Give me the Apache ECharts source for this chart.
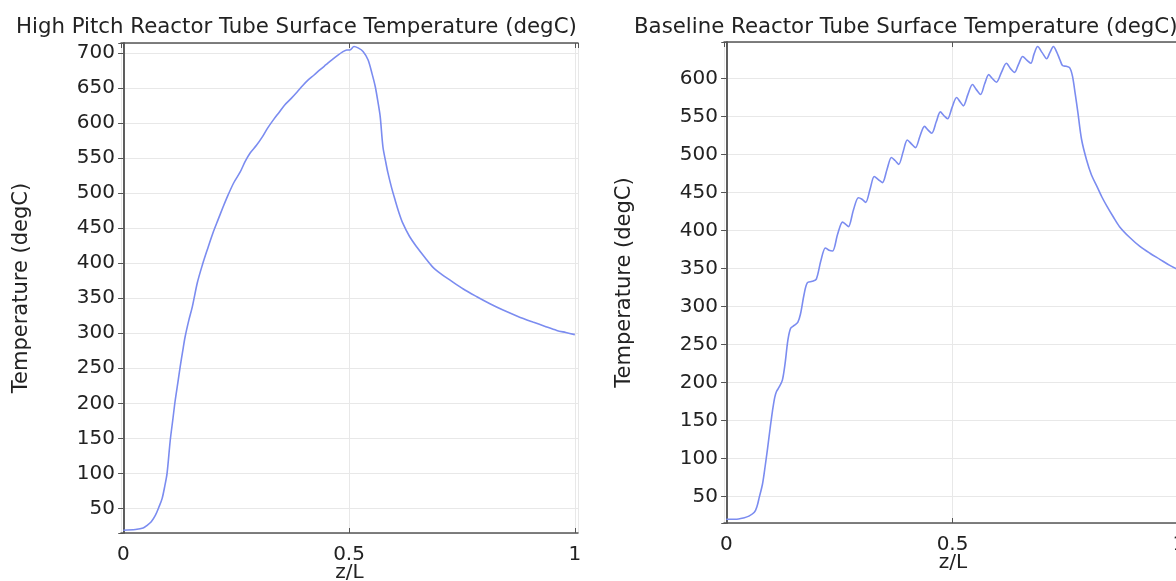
<!DOCTYPE html>
<html>
<head>
<meta charset="utf-8">
<script src="https://cdn.jsdelivr.net/npm/echarts@6/dist/echarts.min.js"></script>
<style>
html,body{margin:0;padding:0;background:#fff;}
#c{width:1176px;height:581px;}
</style>
</head>
<body>
<div id="c"></div>
<script>
// ---- Data ----
const titleLeft = 'High Pitch Reactor Tube Surface Temperature (degC)';
const titleRight = 'Baseline Reactor Tube Surface Temperature (degC)';
const xName = 'z/L';
const yName = 'Temperature (degC)';
const xTicks = [0, 0.5, 1];

const zHigh = [0, 0.027, 0.044, 0.053, 0.062, 0.071, 0.079, 0.086, 0.092, 0.097, 0.104, 0.110, 0.115, 0.121, 0.126, 0.132, 0.137, 0.145, 0.153, 0.164, 0.175, 0.186, 0.198, 0.210, 0.221, 0.232, 0.245, 0.259, 0.270, 0.281, 0.295, 0.308, 0.320, 0.332, 0.345, 0.358, 0.372, 0.385, 0.397, 0.409, 0.422, 0.436, 0.449, 0.462, 0.474, 0.485, 0.495, 0.502, 0.511, 0.520, 0.531, 0.542, 0.551, 0.558, 0.564, 0.569, 0.575, 0.581, 0.586, 0.594, 0.602, 0.610, 0.619, 0.634, 0.650, 0.668, 0.686, 0.705, 0.723, 0.753, 0.783, 0.812, 0.841, 0.874, 0.907, 0.933, 0.960, 0.980, 1.0];
const tHigh = [19, 20, 22, 26, 31, 40, 52, 64, 82, 100, 147, 178, 204, 230, 252, 276, 295, 318, 338, 372, 397, 419, 442, 462, 480, 497, 515, 530, 545, 557, 568, 580, 593, 604, 615, 626, 635, 644, 653, 661, 668, 676, 683, 690, 696, 701, 704, 704, 709, 707, 702, 690, 670, 652, 630, 609, 566, 545, 529, 508, 490, 473, 457, 438, 423, 408, 394, 384, 376, 363, 352, 342, 333, 324, 316, 310, 304, 301, 298];

const zBase = [0, 0.02, 0.04, 0.05, 0.062, 0.068, 0.073, 0.080, 0.086, 0.091, 0.097, 0.102, 0.107, 0.111, 0.117, 0.124, 0.130, 0.136, 0.142, 0.150, 0.158, 0.164, 0.172, 0.179, 0.190, 0.199, 0.209, 0.219, 0.227, 0.235, 0.246, 0.257, 0.264, 0.270, 0.281, 0.292, 0.300, 0.308, 0.318, 0.327, 0.336, 0.345, 0.355, 0.365, 0.373, 0.381, 0.391, 0.400, 0.409, 0.418, 0.428, 0.438, 0.446, 0.454, 0.464, 0.473, 0.481, 0.489, 0.499, 0.509, 0.517, 0.524, 0.534, 0.544, 0.553, 0.562, 0.571, 0.580, 0.588, 0.597, 0.608, 0.619, 0.628, 0.637, 0.646, 0.655, 0.664, 0.673, 0.680, 0.688, 0.698, 0.708, 0.715, 0.723, 0.730, 0.737, 0.743, 0.751, 0.759, 0.765, 0.771, 0.777, 0.785, 0.796, 0.807, 0.819, 0.830, 0.841, 0.855, 0.869, 0.891, 0.914, 0.936, 0.958, 0.980, 1.0];
const tBase = [20, 20, 22, 24, 29, 37, 49, 66, 90, 112, 140, 162, 180, 188, 194, 203, 225, 255, 271, 275, 279, 290, 316, 331, 333, 336, 360, 377, 374, 373, 395, 411, 408, 405, 427, 443, 441, 437, 455, 471, 467, 463, 480, 496, 492, 487, 504, 519, 514, 509, 524, 537, 532, 528, 543, 556, 551, 547, 562, 575, 569, 564, 579, 592, 585, 579, 593, 605, 600, 595, 608, 620, 613, 608, 619, 629, 624, 620, 632, 642, 634, 626, 634, 642, 635, 625, 617, 616, 614, 603, 580, 555, 520, 493, 473, 458, 444, 432, 418, 405, 391, 379, 370, 362, 354, 348];

// ---- Styling ----
const FONT = 'DejaVu Sans';
const TXT = '#222';
const AXC = '#555';
const GRIDC = '#e8e8e8';
const LINEC = '#7b8cf0';

function pairs(xs, ys) { return xs.map((x, i) => [x, ys[i]]); }

function xAxisMain(gi, nameGap) {
  return {
    type: 'value', gridIndex: gi, min: -0.005, max: 1.007,
    minInterval: 0.5, maxInterval: 0.5, splitNumber: 2,
    name: xName, nameLocation: 'middle', nameGap: nameGap, nameMoveOverlap: false,
    nameTextStyle: { fontFamily: FONT, fontSize: 20, color: TXT },
    axisLine: { show: true, lineStyle: { color: AXC, width: 1.5 } },
    axisTick: { show: true, inside: true, length: 5, lineStyle: { color: AXC } },
    axisLabel: { fontFamily: FONT, fontSize: 20, color: TXT, margin: 12, showMinLabel: false, showMaxLabel: false,
      formatter: v => (xTicks.indexOf(Math.round(v * 1000) / 1000) >= 0 ? String(v) : '') },
    splitLine: { show: true, lineStyle: { color: GRIDC, width: 1 } }
  };
}
function xAxisTop(gi) {
  return {
    type: 'value', gridIndex: gi, position: 'top', min: -0.005, max: 1.007,
    minInterval: 0.5, maxInterval: 0.5, splitNumber: 2,
    axisLine: { show: true, lineStyle: { color: AXC, width: 1.5 } },
    axisTick: { show: true, inside: true, length: 5, lineStyle: { color: AXC } },
    axisLabel: { show: false }, splitLine: { show: false }
  };
}
function yAxisMain(gi, mn, mx, nameGap) {
  return {
    type: 'value', gridIndex: gi, min: mn, max: mx,
    minInterval: 50, maxInterval: 50, splitNumber: 14,
    name: yName, nameLocation: 'middle', nameGap: nameGap, nameMoveOverlap: false,
    nameTextStyle: { fontFamily: FONT, fontSize: 21, color: TXT },
    axisLine: { show: true, lineStyle: { color: AXC, width: 1.5 } },
    axisTick: { show: true, inside: false, length: 5, lineStyle: { color: AXC } },
    axisLabel: { fontFamily: FONT, fontSize: 20, color: TXT, margin: 6, showMinLabel: false, showMaxLabel: false,
      formatter: v => (v % 50 === 0 ? String(v) : '') },
    splitLine: { show: true, lineStyle: { color: GRIDC, width: 1 } }
  };
}
function yAxisRight(gi, mn, mx) {
  return {
    type: 'value', gridIndex: gi, position: 'right', min: mn, max: mx,
    minInterval: 50, maxInterval: 50, splitNumber: 14,
    axisLine: { show: true, lineStyle: { color: AXC, width: 1.5 } },
    axisTick: { show: true, inside: true, length: 5, lineStyle: { color: AXC } },
    axisLabel: { show: false }, splitLine: { show: false }
  };
}

const option = {
  backgroundColor: '#fff',
  animation: false,
  title: [
    { text: titleLeft, left: 11, top: 12, textStyle: { fontFamily: FONT, fontSize: 21.3, fontWeight: 'normal', color: TXT } },
    { text: titleRight, left: 629, top: 12, textStyle: { fontFamily: FONT, fontSize: 21.3, fontWeight: 'normal', color: TXT } }
  ],
  grid: [
    { left: 121, top: 43, width: 457, height: 490, containLabel: false, outerBoundsMode: 'none' },
    { left: 724, top: 42, width: 458, height: 481, containLabel: false, outerBoundsMode: 'none' }
  ],
  xAxis: [xAxisMain(0, 30), xAxisMain(1, 30), xAxisTop(0), xAxisTop(1)],
  yAxis: [yAxisMain(0, 15, 714, 89), yAxisMain(1, 15, 648, 89), yAxisRight(0, 15, 714), yAxisRight(1, 15, 648)],
  series: [
    { type: 'line', xAxisIndex: 0, yAxisIndex: 0, data: pairs(zHigh, tHigh), smooth: 0.3, showSymbol: false,
      lineStyle: { color: LINEC, width: 1.6 } },
    { type: 'line', xAxisIndex: 1, yAxisIndex: 1, data: pairs(zBase, tBase), smooth: 0.3, showSymbol: false,
      lineStyle: { color: LINEC, width: 1.6 } }
  ]
};

const chart = echarts.init(document.getElementById('c'), null, { renderer: 'canvas' });
chart.setOption(option);
</script>
</body>
</html>
